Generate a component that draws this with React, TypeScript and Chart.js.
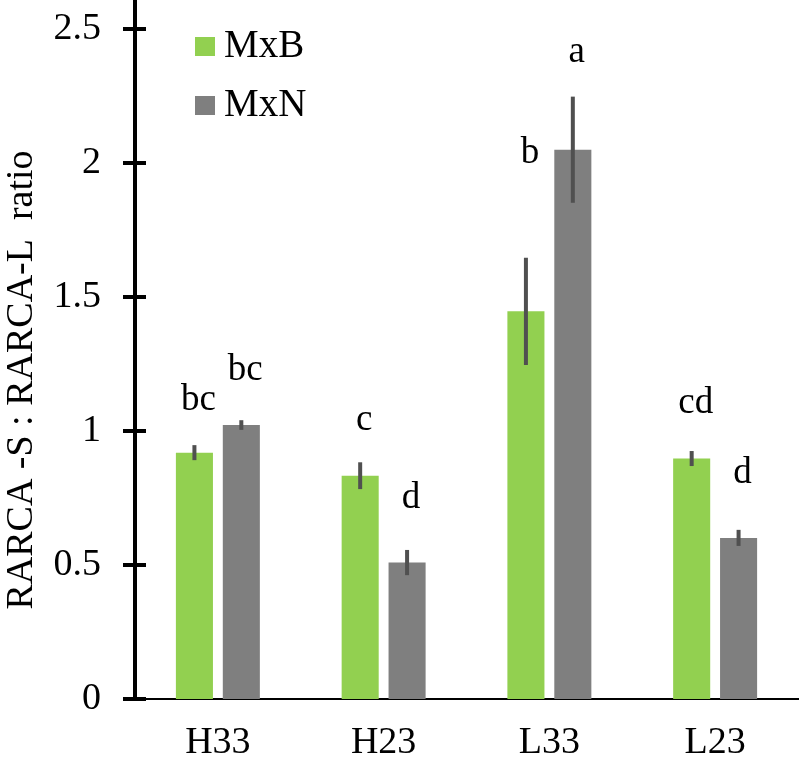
import React, { useEffect, useRef } from 'react';
import { Chart, registerables } from 'chart.js';

Chart.register(...registerables);

// ---- data ----
const categories = ['H33', 'H23', 'L33', 'L23'];
const seriesNames = ['MxB', 'MxN'];
const mxbValues = [0.919, 0.833, 1.446, 0.897];
const mxnValues = [1.022, 0.509, 2.049, 0.601];
const mxbErrors = [0.028, 0.05, 0.2, 0.028];
const mxnErrors = [0.018, 0.047, 0.198, 0.03];
const mxbLetters = ['bc', 'c', 'b', 'cd'];
const mxnLetters = ['bc', 'd', 'a', 'd'];
// baseline level (in data units) of each significance letter
const mxbLetterLevels = [1.078, 1.004, 2.0, 1.067];
const mxnLetterLevels = [1.19, 0.713, 2.377, 0.806];
const yTickValues = [0, 0.5, 1, 1.5, 2, 2.5];
const yAxisTitle = 'RARCA -S : RARCA-L  ratio';

const FONT = '"Liberation Serif", "Times New Roman", serif';
const GREEN = '#92D050';
const GRAY = '#7F7F7F';

const overlayPlugin = {
  id: 'overlay',
  afterDatasetsDraw(chart: any) {
    const ctx = chart.ctx;
    const yScale = chart.scales.y;
    chart.data.datasets.forEach((ds: any, di: number) => {
      const meta = chart.getDatasetMeta(di);
      meta.data.forEach((bar: any, i: number) => {
        const v = ds.data[i];
        const e = ds.errors[i];
        ctx.save();
        ctx.strokeStyle = '#505050';
        ctx.lineWidth = 4;
        ctx.lineCap = 'butt';
        ctx.beginPath();
        ctx.moveTo(bar.x, yScale.getPixelForValue(v + e));
        ctx.lineTo(bar.x, yScale.getPixelForValue(v - e));
        ctx.stroke();
        ctx.fillStyle = '#000';
        ctx.font = `37px ${FONT}`;
        ctx.textAlign = 'center';
        ctx.textBaseline = 'alphabetic';
        ctx.fillText(ds.letters[i], bar.x + 4, yScale.getPixelForValue(ds.letterLevels[i]));
        ctx.restore();
      });
    });
  },
  afterDraw(chart: any) {
    const ctx = chart.ctx;
    const yScale = chart.scales.y;
    const left = chart.chartArea.left;
    ctx.save();
    // crossing tick marks on the y axis
    ctx.strokeStyle = '#000';
    ctx.lineWidth = 4;
    yScale.ticks.forEach((t: any) => {
      const py = Math.round(yScale.getPixelForValue(t.value));
      ctx.beginPath();
      ctx.moveTo(left - 12, py);
      ctx.lineTo(left + 11, py);
      ctx.stroke();
    });
    // legend
    chart.data.datasets.forEach((ds: any, i: number) => {
      const top = 37 + i * 59;
      ctx.fillStyle = ds.backgroundColor;
      ctx.fillRect(195, top, 20, 19);
      ctx.fillStyle = '#000';
      ctx.font = `39px ${FONT}`;
      ctx.textAlign = 'left';
      ctx.textBaseline = 'alphabetic';
      ctx.fillText(ds.label, 224, top + 20);
    });
    // y axis title
    ctx.translate(32, 380);
    ctx.rotate(-Math.PI / 2);
    ctx.fillStyle = '#000';
    ctx.font = `38px ${FONT}`;
    ctx.textAlign = 'center';
    ctx.textBaseline = 'alphabetic';
    ctx.fillText(yAxisTitle, 0, 0);
    ctx.restore();
  },
};

export default function App() {
  const canvasRef = useRef<HTMLCanvasElement | null>(null);

  useEffect(() => {
    const canvas = canvasRef.current;
    if (!canvas) return;
    const chart = new Chart(canvas, {
      type: 'bar',
      data: {
        labels: categories,
        datasets: [
          {
            label: seriesNames[0],
            data: mxbValues,
            backgroundColor: GREEN,
            errors: mxbErrors,
            letters: mxbLetters,
            letterLevels: mxbLetterLevels,
          } as any,
          {
            label: seriesNames[1],
            data: mxnValues,
            backgroundColor: GRAY,
            errors: mxnErrors,
            letters: mxnLetters,
            letterLevels: mxnLetterLevels,
          } as any,
        ],
      },
      options: {
        responsive: false,
        animation: false,
        devicePixelRatio: 1,
        layout: { padding: { top: 2, right: 2, left: 0, bottom: 0 } },
        categoryPercentage: 0.566,
        barPercentage: 0.79,
        plugins: {
          legend: { display: false },
          tooltip: { enabled: false },
          title: { display: false },
        },
        scales: {
          x: {
            type: 'category',
            offset: true,
            grid: { display: false, drawTicks: false },
            border: { display: true, color: '#000', width: 2 },
            ticks: {
              color: '#000',
              font: { family: FONT, size: 38 },
              padding: 21,
              maxRotation: 0,
              autoSkip: false,
            },
            afterFit(s: any) {
              s.height = 62;
              s.paddingLeft = 0;
              s.paddingRight = 0;
            },
          },
          y: {
            min: 0,
            max: 2.6,
            grid: { display: false, drawTicks: false },
            border: { display: true, color: '#000', width: 4 },
            ticks: {
              color: '#000',
              font: { family: FONT, size: 38 },
              padding: 34,
              callback: (v: any) => String(v),
            },
            afterBuildTicks(s: any) {
              s.ticks = yTickValues.map((v) => ({ value: v }));
            },
            afterFit(s: any) {
              s.width = 135;
              s.paddingTop = 0;
              s.paddingBottom = 0;
            },
          },
        },
      } as any,
      plugins: [overlayPlugin],
    });
    return () => chart.destroy();
  }, []);

  return (
    <div style={{ position: 'fixed', left: 0, top: 0, width: 800, height: 761, background: '#fff' }}>
      <canvas ref={canvasRef} width={800} height={761} style={{ display: 'block' }} />
    </div>
  );
}
